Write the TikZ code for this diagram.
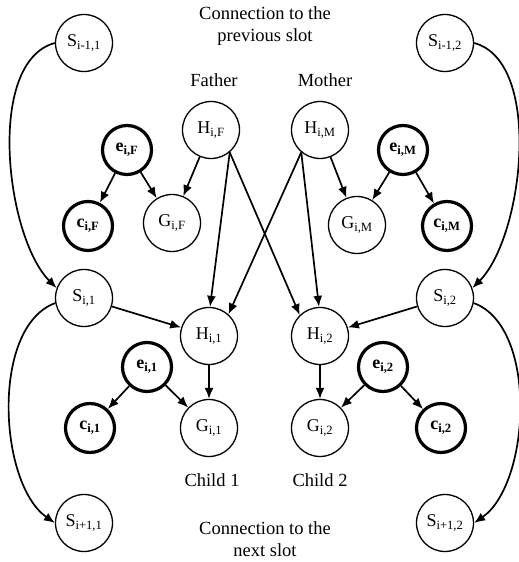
\documentclass[tikz,border=0pt]{standalone}
\usepackage{fontspec}
\setmainfont{Liberation Serif}
\usetikzlibrary{arrows.meta}

\newcommand{\nodefont}{\fontsize{18}{20}\selectfont}
\newcommand{\lblfont}{\fontsize{18.5}{22}\selectfont}

\begin{document}
\begin{tikzpicture}[
		x=1pt, y=1pt,
		arrow/.style={-{Latex[length=11pt,width=9pt]}, line width=1.7pt},
		var/.style={draw, circle, line width=1.3pt, minimum size=57pt, inner sep=0pt, font=\nodefont},
		obs/.style={var, line width=3.2pt, minimum size=49pt, font=\nodefont\bfseries},
		lbl/.style={align=center, font=\lblfont},
	]
		\useasboundingbox (0,0) rectangle (519,562);

		% previous slot
		\node at (84,519) (Sprev1) [var] {S\textsubscript{i-1,1}};
		\node at (445,519) (Sprev2) [var] {S\textsubscript{i-1,2}};
		\node at (265,536) (toptxt) [lbl] {Connection to the\\previous slot};

		% parents
		\node at (214,482) (father) [lbl] {Father};
		\node at (325,482) (mother) [lbl] {Mother};
		\node at (211,432) (HF) [var] {H\textsubscript{i,F}};
		\node at (320,432) (HM) [var] {H\textsubscript{i,M}};
		\node at (127,412) (eF) [obs] {e\textsubscript{i,F}};
		\node at (403,412) (eM) [obs] {e\textsubscript{i,M}};
		\node at (88,336) (cF) [obs] {c\textsubscript{i,F}};
		\node at (172,339) (GF) [var] {G\textsubscript{i,F}};
		\node at (357,337) (GM) [var] {G\textsubscript{i,M}};
		\node at (447,336) (cM) [obs] {c\textsubscript{i,M}};

		% children
		\node at (84,264) (S1) [var] {S\textsubscript{i,1}};
		\node at (445,264) (S2) [var] {S\textsubscript{i,2}};
		\node at (209,226) (H1) [var] {H\textsubscript{i,1}};
		\node at (320,226) (H2) [var] {H\textsubscript{i,2}};
		\node at (147,195) (e1) [obs] {e\textsubscript{i,1}};
		\node at (383,195) (e2) [obs] {e\textsubscript{i,2}};
		\node at (90,134) (c1) [obs] {c\textsubscript{i,1}};
		\node at (209,134) (G1) [var] {G\textsubscript{i,1}};
		\node at (320,134) (G2) [var] {G\textsubscript{i,2}};
		\node at (441,134) (c2) [obs] {c\textsubscript{i,2}};
		\node at (212,82) (child1) [lbl] {Child 1};
		\node at (320,82) (child2) [lbl] {Child 2};

		% next slot
		\node at (84,39) (Snext1) [var] {S\textsubscript{i+1,1}};
		\node at (445,39) (Snext2) [var] {S\textsubscript{i+1,2}};
		\node at (265,23) (bottxt) [lbl] {Connection to the\\next slot};

		\draw[arrow] (HF) -- (GF);
		\draw[arrow] (eF) -- (GF);
		\draw[arrow] (eF) -- (cF);
		\draw[arrow] (HM) -- (GM);
		\draw[arrow] (eM) -- (GM);
		\draw[arrow] (eM) -- (cM);

		\draw[arrow] (HF.310) -- (H1.88);
		\draw[arrow] (HF.310) -- (H2.134);
		\draw[arrow] (HM.230) -- (H1.48);
		\draw[arrow] (HM.230) -- (H2.92);

		\draw[arrow] (S1) -- (H1);
		\draw[arrow] (S2) -- (H2);
		\draw[arrow] (H1) -- (G1);
		\draw[arrow] (e1) -- (G1);
		\draw[arrow] (e1) -- (c1);
		\draw[arrow] (H2) -- (G2);
		\draw[arrow] (e2) -- (G2);
		\draw[arrow] (e2) -- (c2);

		\draw[arrow] (Sprev1.west) to[out=195, in=135, looseness=0.75] (S1.160);
		\draw[arrow] (S1.190) to[out=200, in=145, looseness=0.8] (Snext1.west);
		\draw[arrow] (Sprev2.east) to[out=-15, in=45, looseness=0.75] (S2.20);
		\draw[arrow] (S2.-10) to[out=-20, in=35, looseness=0.8] (Snext2.east);
	\end{tikzpicture}
\end{document}
